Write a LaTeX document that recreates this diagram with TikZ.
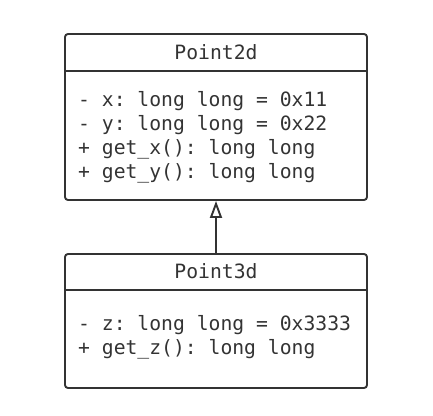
\documentclass[tikz,border=0pt]{standalone}
\usepackage{fontspec}
\setmonofont{DejaVu Sans Mono}
\usetikzlibrary{arrows.meta}
\definecolor{umlgray}{HTML}{333333}
\tikzstyle{classbox}=[draw=umlgray, line width=1.9pt, rounded corners=3pt, minimum width=302pt, inner sep=0pt]
\tikzstyle{classline}=[draw=umlgray, line width=1.9pt]
\tikzstyle{classname}=[font=\ttfamily\fontsize{19.7}{24}\selectfont, text=umlgray, inner sep=0pt]
\tikzstyle{members}=[font=\ttfamily\fontsize{19.7}{24}\selectfont, text=umlgray, inner sep=0pt, align=left, anchor=base west]

\begin{document}
\begin{tikzpicture}[x=1pt, y=-1pt]
\useasboundingbox (0,0) rectangle (433,415);
% Classes
    \node[classbox, minimum height=166pt] (p2d) at (216,117) {};
    \node[classbox, minimum height=134pt] (p3d) at (216,321) {};
% Headers
    \draw[classline] ([yshift=-37.7pt]p2d.north west) -- ([yshift=-37.7pt]p2d.north east);
    \draw[classline] ([yshift=-36.7pt]p3d.north west) -- ([yshift=-36.7pt]p3d.north east);
    \node[classname] (p2dname) at (216,52) {Point2d};
    \node[classname] (p3dname) at (216,271.5) {Point3d};
% Members (anchored at the baseline of the last line)
    \node[members] (p2dmembers) at (78,178) {- x: long long = 0x11\\- y: long long = 0x22\\+ get\_x(): long long\\+ get\_y(): long long};
    \node[members] (p3dmembers) at (78,354) {- z: long long = 0x3333\\+ get\_z(): long long};
% Inheritance
    \draw[classline, -{Triangle[open, length=17pt, width=12pt]}] (p3d.north) -- (p2d.south);
\end{tikzpicture}
\end{document}
